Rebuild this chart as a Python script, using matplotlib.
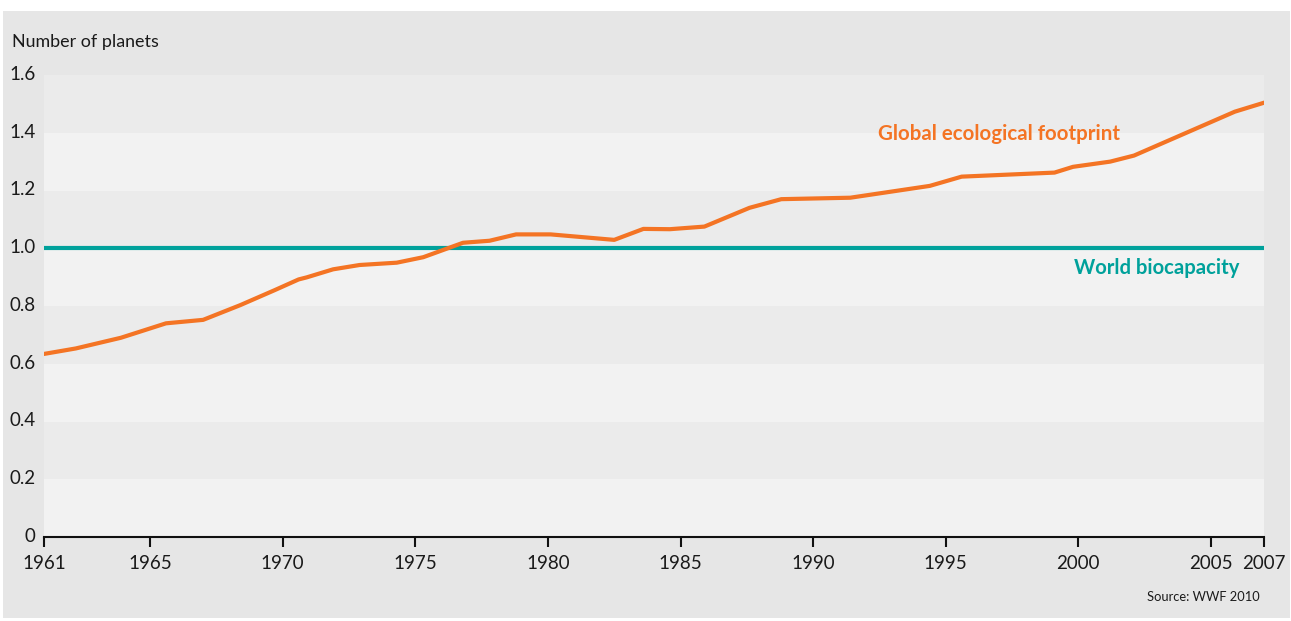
import matplotlib
matplotlib.use("Agg")
import matplotlib.pyplot as plt
from matplotlib.patches import Rectangle
from matplotlib.transforms import ScaledTranslation

plt.rcParams['font.family'] = ['Lato', 'DejaVu Sans']

# Data
years = [1961.0, 1962.2, 1963.9, 1965.6, 1967.0, 1968.4, 1969.7, 1970.6, 1970.9,
         1971.9, 1972.9, 1974.3, 1975.3, 1976.8, 1977.8, 1978.8, 1980.1, 1982.5,
         1983.6, 1984.6, 1985.9, 1987.6, 1988.8, 1991.4, 1994.4, 1995.6, 1999.1,
         1999.8, 2001.2, 2002.1, 2005.9, 2007.0]
footprint = [0.634, 0.653, 0.690, 0.740, 0.752, 0.803, 0.855, 0.892, 0.899,
             0.927, 0.942, 0.950, 0.969, 1.019, 1.026, 1.048, 1.048, 1.029,
             1.067, 1.066, 1.075, 1.140, 1.170, 1.175, 1.216, 1.248, 1.262,
             1.282, 1.300, 1.321, 1.473, 1.504]
biocapacity = 1.0
x_ticks = [1961, 1965, 1970, 1975, 1980, 1985, 1990, 1995, 2000, 2005, 2007]
y_ticks = [0, 0.2, 0.4, 0.6, 0.8, 1.0, 1.2, 1.4, 1.6]
y_tick_labels = ['0', '0.2', '0.4', '0.6', '0.8', '1.0', '1.2', '1.4', '1.6']

ORANGE = '#f47424'
TEAL = '#00a19b'
OUTER = '#e6e6e6'
BAND_LIGHT = '#f2f2f2'
BAND_DARK = '#ebebeb'

W, H = 1291, 621
fig = plt.figure(figsize=(W / 100, H / 100), dpi=100)
fig.patch.set_facecolor('white')
fig.patches.append(Rectangle((3 / W, 1 - 618 / H), (1290 - 3) / W, (618 - 11) / H,
                             transform=fig.transFigure, facecolor=OUTER,
                             edgecolor='none', zorder=-10))

ax = fig.add_axes([44 / W, 1 - 537 / H, (1264 - 44) / W, (537 - 75) / H])
ax.set_facecolor('none')
ax.set_xlim(1961, 2007)
ax.set_ylim(0, 1.6)

# alternating horizontal bands
for i in range(len(y_ticks) - 1):
    ax.axhspan(y_ticks[i], y_ticks[i + 1], color=BAND_LIGHT if i % 2 == 0 else BAND_DARK,
               lw=0, zorder=0)

ax.axhline(biocapacity, color=TEAL, lw=3.0, zorder=2, solid_capstyle='butt')
ax.plot(years, footprint, color=ORANGE, lw=3.0, zorder=3, solid_joinstyle='round')

for s in ['top', 'right', 'left']:
    ax.spines[s].set_visible(False)
ax.spines['bottom'].set_linewidth(1.5)
ax.spines['bottom'].set_color('#111111')
ax.spines['bottom'].set_zorder(4)

ax.set_xticks(x_ticks, [str(t) for t in x_ticks])
ax.tick_params(axis='x', direction='out', length=7, width=1.5, color='#111111',
               labelsize=13.5, pad=6, labelcolor='#1a1a1a')
ax.set_yticks(y_ticks, y_tick_labels)
ax.tick_params(axis='y', length=0, labelsize=13.5, pad=6, labelcolor='#1a1a1a')
for lbl in ax.get_yticklabels():
    lbl.set_va('baseline')
    lbl.set_transform(lbl.get_transform() + ScaledTranslation(0, -3.5 / 72, fig.dpi_scale_trans))

fig.text(12 / W, 1 - 47 / H, 'Number of planets', fontsize=12.9, color='#1a1a1a',
         ha='left', va='baseline')

fig.text(1120 / W, 1 - 140 / H, 'Global ecological footprint', fontsize=14.8,
         color=ORANGE, ha='right', va='baseline', fontweight='bold')
fig.text(1239 / W, 1 - 274 / H, 'World biocapacity', fontsize=14.6,
         color=TEAL, ha='right', va='baseline', fontweight='bold')
fig.text(1260 / W, 1 - 601 / H, 'Source: WWF 2010', fontsize=9.3,
         color='#1a1a1a', ha='right', va='baseline')

fig.savefig('out.png', dpi=100, facecolor='white')
